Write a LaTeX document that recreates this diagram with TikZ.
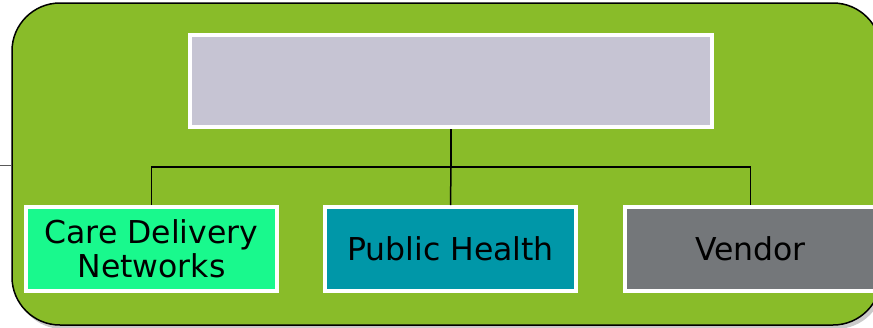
\documentclass[tikz,border=0pt]{standalone}
\usepackage{fontspec}
\setmainfont{DejaVu Sans}
\usetikzlibrary{calc}
\definecolor{panelgreen}{HTML}{89BC29}
\definecolor{lav}{HTML}{C6C4D3}
\definecolor{carecol}{HTML}{19F98D}
\definecolor{phcol}{HTML}{0097A8}
\definecolor{vendcol}{HTML}{74777A}
\tikzset{
  box/.style={rectangle, draw=white, line width=4pt, minimum width=251pt, minimum height=84pt,
    inner sep=0pt, align=center, font=\fontsize{31.5}{34}\selectfont, text=black},
  conn/.style={draw=black, line width=1.5pt},
}
\begin{document}
\begin{tikzpicture}[x=1pt,y=-1pt]
\useasboundingbox (0,0) rectangle (873,327);
% shadow
\fill[black!35, opacity=0.6, rounded corners=48pt] (15,7) rectangle (884,329);
% panel
\node[rectangle, draw=black, line width=1.5pt, fill=panelgreen, rounded corners=48pt,
  minimum width=869pt, minimum height=322pt, inner sep=0pt] (panel) at (446.5,164) {};
\coordinate (stub) at (0,165);
\draw[gray!70!black, line width=1pt] (stub) -- (stub -| panel.west);
% top box
\node[box, fill=lav, minimum width=522pt, minimum height=92pt] (top) at (451,81) {};
% bottom boxes
\node[box, fill=carecol] (care) at (151.5,249) {Care Delivery\\Networks};
\node[box, fill=phcol] (ph) at (450.5,249) {Public Health};
\node[box, fill=vendcol] (vend) at (750.5,249) {Vendor};
% connectors
\coordinate (bus) at (451,167);
\draw[conn] (top.south) -- (bus);
\draw[conn] (care.north) |- (bus) -| (vend.north);
\draw[conn] (bus) -- (ph.north);
\end{tikzpicture}
\end{document}
